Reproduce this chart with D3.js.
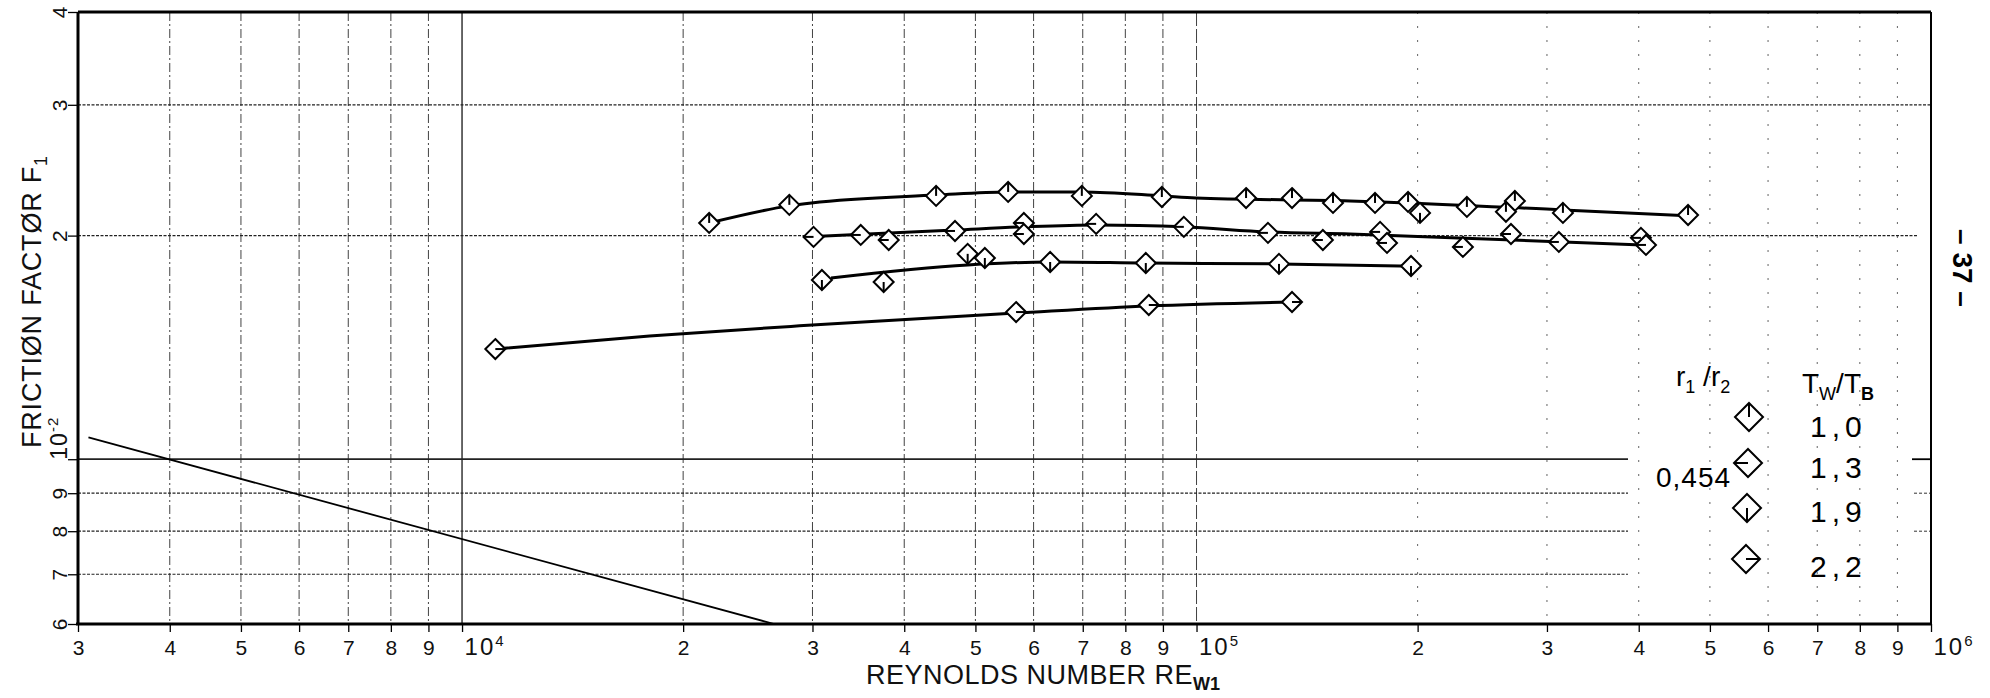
<!DOCTYPE html>
<html>
<head>
<meta charset="utf-8">
<script src="https://cdn.jsdelivr.net/npm/d3@7/dist/d3.min.js"></script>
<style>
  body { margin: 0; background: #fff; }
  svg { display: block; }
</style>
</head>
<body>
<svg id="chart" width="1990" height="698"></svg>
<script>
// ---- data ----
const xTicks = [3e3, 4e3, 5e3, 6e3, 7e3, 8e3, 9e3, 1e4,
  2e4, 3e4, 4e4, 5e4, 6e4, 7e4, 8e4, 9e4, 1e5,
  2e5, 3e5, 4e5, 5e5, 6e5, 7e5, 8e5, 9e5, 1e6];
const xTickLabels = ['3', '4', '5', '6', '7', '8', '9', '10^4',
  '2', '3', '4', '5', '6', '7', '8', '9', '10^5',
  '2', '3', '4', '5', '6', '7', '8', '9', '10^6'];
const yTicks = [0.006, 0.007, 0.008, 0.009, 0.01, 0.02, 0.03, 0.04];
const yTickLabels = ['6', '7', '8', '9', '10^-2', '2', '3', '4'];

// Tw/Tb = 1,0  (flag up)
const s10Points = [[21700, 0.0208], [27900, 0.0220], [44200, 0.02262], [55400, 0.0229], [69800, 0.02262],
  [89700, 0.02254], [116800, 0.02247], [134900, 0.02247], [153400, 0.02213], [175000, 0.02213],
  [194100, 0.0222], [233400, 0.02186], [271300, 0.02227], [263800, 0.02153], [315400, 0.02146],
  [466900, 0.02132]];
const s10Curve = [[21700, 0.0208], [27900, 0.02193], [29900, 0.02213], [44200, 0.02268], [55400, 0.0229],
  [69800, 0.0229], [89700, 0.02262], [99800, 0.02247], [161800, 0.02227], [315400, 0.02166], [466900, 0.02126]];

// Tw/Tb = 1,3  (flag left)
const s13Points = [[30100, 0.01992], [34900, 0.02004], [38100, 0.01973], [46900, 0.02029], [58200, 0.0208],
  [58200, 0.0201], [73000, 0.02074], [96100, 0.02055], [125100, 0.02017], [148600, 0.01973],
  [177800, 0.02023], [181700, 0.01955], [230500, 0.01931], [268000, 0.0201], [311400, 0.01961],
  [402800, 0.01986], [409200, 0.01943]];
const s13Curve = [[29200, 0.01992], [46900, 0.02035], [58200, 0.02055], [73000, 0.02067], [96100, 0.02055],
  [125100, 0.02023], [161800, 0.0201], [405300, 0.01943]];

// Tw/Tb = 1,9  (flag down)
const s19Points = [[30900, 0.01743], [37500, 0.01732], [48800, 0.0189], [51500, 0.01866], [63200, 0.01843],
  [85300, 0.01837], [129500, 0.01832], [195900, 0.0182], [201500, 0.02146]];
const s19Curve = [[31800, 0.01754], [48800, 0.01826], [63200, 0.01843], [85300, 0.01837], [129500, 0.01832],
  [191100, 0.0182]];

// Tw/Tb = 2,2  (flag right)
const s22Points = [[11100, 0.01407], [56800, 0.01578], [86100, 0.01613], [134900, 0.01628]];
const s22Curve = [[11100, 0.01407], [18000, 0.01465], [28800, 0.01512], [56800, 0.01573], [86100, 0.01608],
  [134900, 0.01628]];

// straight reference line lower left
const refLine = [[3100, 0.0107], [26600, 0.006]];

const legendRatio = '0,454';
const legendTemps = ['1,0', '1,3', '1,9', '2,2'];
const legendFlags = ['up', 'left', 'down', 'right'];

// ---- drawing ----
const svg = d3.select('#chart');
const x = d3.scaleLog().domain([3000, 1e6]).range([78, 1931]);
const y = d3.scaleLog().domain([0.006, 0.04]).range([624, 12]);
const [x0, x1] = x.range();
const [yb, yt] = y.range();
const tickFont = "'Liberation Sans Narrow', 'Liberation Sans', sans-serif";

// vertical grid
svg.append('g').selectAll('line')
  .data(xTicks.filter(v => v > 3000 && v < 1e6))
  .join('line')
  .attr('x1', d => x(d)).attr('x2', d => x(d))
  .attr('y1', yt).attr('y2', yb)
  .attr('stroke', '#222')
  .attr('stroke-width', d => d === 1e4 ? 1.6 : 1)
  .attr('stroke-dasharray', d => d === 1e4 ? null : d === 1e5 ? '14,3' : d > 1e5 ? '2,12' : '9,3,2,3')
  .attr('opacity', d => d > 1e5 ? 0.7 : 0.85);

// horizontal grid
const hEnd = d => d >= 0.03 ? x1 : d >= 0.02 ? 1917 : 1628;
svg.append('g').selectAll('line')
  .data(yTicks.filter(v => v > 0.006 && v < 0.04))
  .join('line')
  .attr('x1', x0).attr('x2', d => hEnd(d))
  .attr('y1', d => y(d)).attr('y2', d => y(d))
  .attr('stroke', '#222')
  .attr('stroke-width', d => d === 0.01 ? 1.8 : 1.2)
  .attr('stroke-dasharray', d => d === 0.01 ? null : '3,1.5');

// short marks on the right border
svg.append('line').attr('x1', 1912).attr('x2', x1).attr('y1', y(0.01)).attr('y2', y(0.01))
  .attr('stroke', '#000').attr('stroke-width', 1.8);
svg.append('g').selectAll('line').data([0.009, 0.008]).join('line')
  .attr('x1', 1914).attr('x2', x1).attr('y1', d => y(d)).attr('y2', d => y(d))
  .attr('stroke', '#333').attr('stroke-dasharray', '3,2');

// x axis
const xAxis = svg.append('g')
  .attr('transform', `translate(0,${yb})`)
  .call(d3.axisBottom(x).tickValues(xTicks).tickSize(8).tickSizeOuter(0)
    .tickFormat((d, i) => xTickLabels[i]));
xAxis.select('.domain').remove();
xAxis.selectAll('.tick line').attr('stroke', '#000').attr('stroke-width', 1.3);
xAxis.selectAll('.tick text')
  .attr('font-family', tickFont).attr('font-size', 21).attr('fill', '#111')
  .attr('dy', '0.95em')
  .each(function (d, i) {
    const lab = xTickLabels[i];
    if (lab.includes('^')) {
      const [b, e] = lab.split('^');
      const t = d3.select(this).text('').attr('text-anchor', 'start').attr('x', 2)
        .attr('letter-spacing', 2);
      t.append('tspan').text(b).attr('font-size', 24);
      t.append('tspan').text(e).attr('font-size', 15).attr('dy', '-0.6em');
    }
  });

// y axis
const yAxis = svg.append('g')
  .attr('transform', `translate(${x0},0)`)
  .call(d3.axisLeft(y).tickValues(yTicks).tickSize(10).tickSizeOuter(0)
    .tickFormat((d, i) => yTickLabels[i]));
yAxis.select('.domain').remove();
yAxis.selectAll('.tick line').attr('stroke', '#000').attr('stroke-width', 1.3);
yAxis.selectAll('.tick text')
  .attr('font-family', tickFont).attr('font-size', 21).attr('fill', '#111')
  .attr('x', null).attr('dy', null)
  .attr('text-anchor', 'middle')
  .attr('transform', 'translate(-11,0) rotate(-90)')
  .each(function (d, i) {
    const lab = yTickLabels[i];
    if (lab.includes('^')) {
      const [b, e] = lab.split('^');
      const t = d3.select(this).text('').attr('text-anchor', 'start').attr('letter-spacing', 1);
      t.append('tspan').text(b).attr('font-size', 23);
      t.append('tspan').text(e).attr('font-size', 15).attr('dy', '-0.6em');
    }
  });

// frame
const frame = svg.append('g').attr('stroke', '#000').attr('fill', 'none');
frame.append('line').attr('x1', x0).attr('x2', x0).attr('y1', yt).attr('y2', yb).attr('stroke-width', 3);
frame.append('line').attr('x1', x0 - 2).attr('x2', x1).attr('y1', yb).attr('y2', yb).attr('stroke-width', 3);
frame.append('line').attr('x1', x0).attr('x2', x1).attr('y1', yt).attr('y2', yt).attr('stroke-width', 3);
frame.append('line').attr('x1', x1).attr('x2', x1).attr('y1', yt).attr('y2', yb).attr('stroke-width', 2);

// reference line
svg.append('path').datum(refLine)
  .attr('d', d3.line().x(d => x(d[0])).y(d => y(d[1])))
  .attr('fill', 'none').attr('stroke', '#000').attr('stroke-width', 1.8);

// fitted curves
const curveLine = d3.line().x(d => x(d[0])).y(d => y(d[1])).curve(d3.curveMonotoneX);
svg.append('g').selectAll('path')
  .data([s10Curve, s13Curve, s19Curve, s22Curve])
  .join('path')
  .attr('d', curveLine)
  .attr('fill', 'none').attr('stroke', '#000').attr('stroke-width', 3);

// diamond markers with flag
const flagDir = { up: [0, -1], left: [-1, 0], down: [0, 1], right: [1, 0] };
function drawMarker(g, h, flag) {
  g.append('path')
    .attr('d', `M0,${-h}L${h},0L0,${h}L${-h},0Z`)
    .attr('fill', '#fff').attr('stroke', '#000').attr('stroke-width', 2);
  const [dx, dy] = flagDir[flag];
  g.append('line')
    .attr('x1', 0).attr('y1', 0).attr('x2', dx * h).attr('y2', dy * h)
    .attr('stroke', '#000').attr('stroke-width', 2);
}
[[s10Points, 'up'], [s13Points, 'left'], [s19Points, 'down'], [s22Points, 'right']].forEach(([pts, flag]) => {
  svg.append('g').selectAll('g')
    .data(pts)
    .join('g')
    .attr('transform', d => `translate(${x(d[0])},${y(d[1])})`)
    .each(function () { drawMarker(d3.select(this), 10, flag); });
});

// legend
const legFont = "'Liberation Sans Narrow', 'Liberation Sans', Arial, sans-serif";
const leg = svg.append('g').attr('font-family', legFont).attr('fill', '#000');
const rHead = leg.append('text').attr('x', 1676).attr('y', 386).attr('font-size', 28);
rHead.append('tspan').text('r');
rHead.append('tspan').text('1').attr('font-size', 18).attr('dy', 7);
rHead.append('tspan').text(' /r').attr('dy', -7);
rHead.append('tspan').text('2').attr('font-size', 18).attr('dy', 7);
const tHead = leg.append('text').attr('x', 1802).attr('y', 393).attr('font-size', 28);
tHead.append('tspan').text('T');
tHead.append('tspan').text('W').attr('font-size', 18).attr('dy', 7);
tHead.append('tspan').text('/T').attr('dy', -7);
tHead.append('tspan').text('B').attr('font-size', 18).attr('dy', 7).attr('font-weight', 'bold');
leg.append('text').attr('x', 1656).attr('y', 487).attr('font-size', 28)
  .attr('letter-spacing', 1).text(legendRatio);

const legY = [417, 463, 508, 559];
const legTextY = [437, 478, 522, 577];
legendTemps.forEach((t, i) => {
  const g = leg.append('g').attr('transform', `translate(${1749 - i},${legY[i]})`);
  drawMarker(g, 14, legendFlags[i]);
  leg.append('text').attr('x', 1810).attr('y', legTextY[i]).attr('font-size', 30)
    .attr('letter-spacing', 5).text(t);
});

// axis titles
const xt = svg.append('text').attr('x', 866).attr('y', 684)
  .attr('font-family', tickFont).attr('font-size', 27).attr('letter-spacing', 0.5).attr('fill', '#111');
xt.append('tspan').text('REYNOLDS NUMBER RE');
xt.append('tspan').text('W1').attr('font-size', 18).attr('dy', 6).attr('font-weight', 'bold').attr('letter-spacing', 0);

const yt2 = svg.append('text').attr('transform', 'translate(41,448) rotate(-90)')
  .attr('font-family', tickFont).attr('font-size', 27).attr('letter-spacing', 0.8).attr('fill', '#111');
yt2.append('tspan').text('FRICTIØN FACTØR F');
yt2.append('tspan').text('1').attr('font-size', 18).attr('dy', 6);

// page number
svg.append('text').attr('transform', 'translate(1953,268) rotate(90)')
  .attr('text-anchor', 'middle').attr('font-family', legFont).attr('font-size', 28)
  .attr('font-weight', 'bold').attr('fill', '#000').text('– 37 –');
</script>
</body>
</html>
